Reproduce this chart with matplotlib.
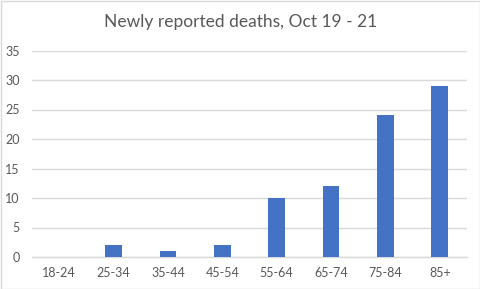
import matplotlib
matplotlib.use("Agg")
import matplotlib.pyplot as plt
from matplotlib.patches import Rectangle

categories = ["18-24", "25-34", "35-44", "45-54", "55-64", "65-74", "75-84", "85+"]
deaths = [0, 2, 1, 2, 10, 12, 24, 29]
yticks = [0, 5, 10, 15, 20, 25, 30, 35]
title = "Newly reported deaths, Oct 19 - 21"

plt.rcParams['font.family'] = ['Lato', 'DejaVu Sans']
txt = "#595959"
grid = "#D9D9D9"

fig = plt.figure(figsize=(4.81, 2.89), dpi=100)
ax = fig.add_axes([32/481, 1-257/289, 435/481, 206.5/289])
x = list(range(len(categories)))
ax.bar(x, deaths, width=0.31, color="#4472C4", zorder=3)
ax.set_xlim(-0.5, len(categories)-0.5)
ax.set_ylim(0, 35)
ax.set_yticks(yticks)
ax.set_xticks(x)
ax.set_xticklabels(categories)
ax.tick_params(axis='both', length=0, colors=txt, labelsize=9)
ax.tick_params(axis='y', pad=9)
ax.tick_params(axis='x', pad=7)
ax.grid(axis='y', color=grid, linewidth=1, zorder=0)
for s in ['top', 'right', 'left']:
    ax.spines[s].set_visible(False)
ax.spines['bottom'].set_color(grid)
ax.spines['bottom'].set_linewidth(1)
fig.text(0.5, 1-22/289, title, ha='center', va='center', fontsize=12.5, color=txt)
fig.patches.append(Rectangle((0.5/481, 0.5/289), 479.5/481, 287.5/289, transform=fig.transFigure,
                             fill=False, edgecolor=grid, linewidth=1))
fig.savefig("out.png", dpi=100)
